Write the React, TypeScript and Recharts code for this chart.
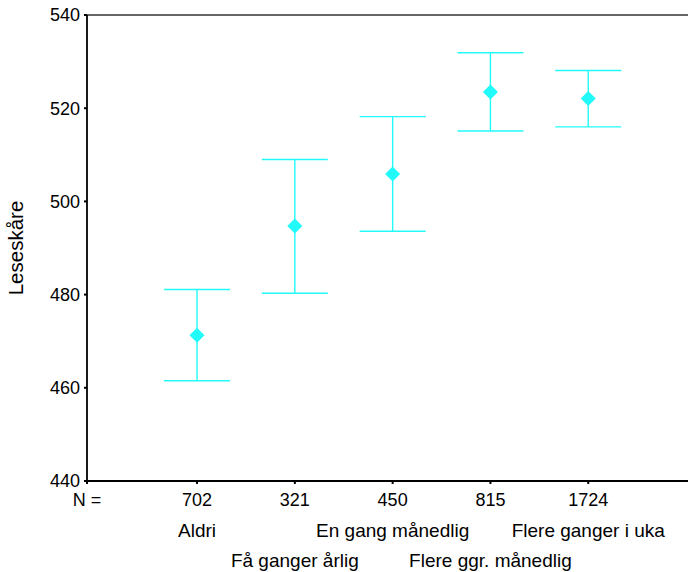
import React from 'react';
import { ScatterChart, Scatter, XAxis, YAxis, ErrorBar, ReferenceLine } from 'recharts';

const categories = ['Aldri', 'Få ganger årlig', 'En gang månedlig', 'Flere ggr. månedlig', 'Flere ganger i uka'];
const counts = [702, 321, 450, 815, 1724];
const means = [471.3, 494.7, 505.9, 523.5, 522.1];
const lower = [461.5, 480.3, 493.6, 515.1, 516.0];
const upper = [481.1, 509.0, 518.2, 531.9, 528.1];
const yTicks = [440, 460, 480, 500, 520, 540];
const nLabel = 'N =';
const yTitle = 'Leseskåre';

const XMIN = -1.125;
const XMAX = 5.02;
const CYAN = '#22fafa';
const FONT = '"Liberation Sans", Arial, sans-serif';

const data = categories.map((c, i) => ({
  idx: i,
  mean: means[i],
  err: [means[i] - lower[i], upper[i] - means[i]],
}));

const XTick = (props: any) => {
  const { x, y, payload } = props;
  const v = payload.value;
  if (v === XMIN) {
    return (
      <text x={x} y={y + 20} textAnchor="middle" fontFamily={FONT} fontSize={18} fill="#000">
        {nLabel}
      </text>
    );
  }
  const i = Math.round(v);
  const row = i % 2 === 0 ? 51 : 81;
  return (
    <g>
      <text x={x} y={y + 20} textAnchor="middle" fontFamily={FONT} fontSize={18} fill="#000">
        {counts[i]}
      </text>
      <text x={x} y={y + row} textAnchor="middle" fontFamily={FONT} fontSize={19} fill="#000">
        {categories[i]}
      </text>
    </g>
  );
};

const YLabel = (props: any) => {
  const { viewBox } = props;
  const cy = viewBox.y + viewBox.height / 2;
  return (
    <text
      x={23}
      y={cy}
      transform={`rotate(-90, 23, ${cy})`}
      textAnchor="middle"
      fontFamily={FONT}
      fontSize={20.5}
      fill="#000"
    >
      {yTitle}
    </text>
  );
};

const Diamond = (props: any) => {
  const { cx, cy } = props;
  const r = 7.5;
  return (
    <polygon
      points={`${cx},${cy - r} ${cx + r},${cy} ${cx},${cy + r} ${cx - r},${cy}`}
      fill={CYAN}
      stroke="none"
    />
  );
};

export default function App() {
  return (
    <div style={{ position: 'absolute', left: 0, top: 0, width: 688, height: 572, background: '#fff' }}>
      <ScatterChart width={688} height={572} margin={{ top: 15, right: 0, bottom: 0, left: 0 }}>
        <XAxis
          type="number"
          dataKey="idx"
          domain={[XMIN, XMAX]}
          ticks={[XMIN, 0, 1, 2, 3, 4]}
          interval={0}
          allowDataOverflow
          height={91}
          tickSize={3}
          tickMargin={2}
          axisLine={{ stroke: '#000', strokeWidth: 1.8 }}
          tickLine={{ stroke: '#000', strokeWidth: 2 }}
          tick={<XTick />}
        />
        <YAxis
          type="number"
          dataKey="mean"
          domain={[440, 540]}
          ticks={yTicks}
          interval={0}
          allowDataOverflow
          width={87}
          tickSize={3}
          tickMargin={4}
          axisLine={{ stroke: '#000', strokeWidth: 1.8 }}
          tickLine={{ stroke: '#000', strokeWidth: 2 }}
          tick={{ fontFamily: FONT, fontSize: 18, fill: '#000' }}
          label={<YLabel />}
        />
        <ReferenceLine y={540} stroke="#333" strokeWidth={1.3} />
        <Scatter data={data} dataKey="mean" shape={<Diamond />} isAnimationActive={false}>
          <ErrorBar dataKey="err" direction="y" width={33} stroke={CYAN} strokeWidth={1.4} />
        </Scatter>
      </ScatterChart>
    </div>
  );
}
